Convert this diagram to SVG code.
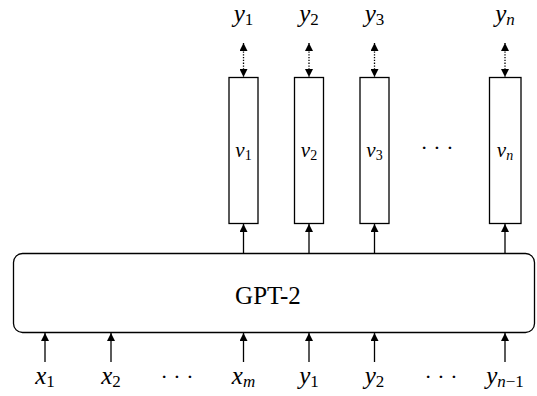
<svg xmlns="http://www.w3.org/2000/svg" width="537" height="396" viewBox="0 0 537 396">
<style>
.box{fill:#fff;stroke:#000;stroke-width:1.3}
.ln{stroke:#000;stroke-width:1.3;fill:none}
.dot{stroke:#000;stroke-width:1.3;fill:none;stroke-dasharray:1.3 1.5}
.t{font-family:"Liberation Serif","DejaVu Serif",serif;font-size:25px;fill:#000}
.m{font-style:italic}
.s{font-size:17px}
.v{font-family:"Liberation Serif","DejaVu Serif",serif;font-size:21px;fill:#000}
.d{font-family:"Liberation Serif","DejaVu Serif",serif;font-size:22px;fill:#000}
</style>
<defs>
<marker id="ah" viewBox="0 0 10 10" refX="10" refY="5" markerWidth="8" markerHeight="8" markerUnits="userSpaceOnUse" orient="auto-start-reverse">
<path d="M0,0 L10,5 L0,10 z" fill="#000"/>
</marker>
</defs>
<g id="gpt2">
<rect class="box" x="13.5" y="253.5" width="521" height="79" rx="9"/>
<text class="t" x="268" y="304" text-anchor="middle" font-size="27">GPT-2</text>
</g>
<g id="v1"><rect class="box" x="229" y="77.5" width="29" height="146"/><text class="v" x="243.5" y="157" text-anchor="middle"><tspan class="m">v</tspan><tspan font-size="14" dy="3">1</tspan></text></g>
<g id="v2"><rect class="box" x="294.5" y="77.5" width="29" height="146"/><text class="v" x="309" y="157" text-anchor="middle"><tspan class="m">v</tspan><tspan font-size="14" dy="3">2</tspan></text></g>
<g id="v3"><rect class="box" x="360" y="77.5" width="29" height="146"/><text class="v" x="374.5" y="157" text-anchor="middle"><tspan class="m">v</tspan><tspan font-size="14" dy="3">3</tspan></text></g>
<g id="vn"><rect class="box" x="489.5" y="77.5" width="31.5" height="146"/><text class="v" x="505" y="157" text-anchor="middle"><tspan class="m">v</tspan><tspan class="m" font-size="14" dy="3">n</tspan></text></g>
<text class="d" x="437" y="155" text-anchor="middle">· · ·</text>
<g id="connectors">
<line class="ln" x1="243.5" y1="253" x2="243.5" y2="224" marker-end="url(#ah)"/>
<line class="ln" x1="309" y1="253" x2="309" y2="224" marker-end="url(#ah)"/>
<line class="ln" x1="374.5" y1="253" x2="374.5" y2="224" marker-end="url(#ah)"/>
<line class="ln" x1="505" y1="253" x2="505" y2="224" marker-end="url(#ah)"/>
<line class="dot" x1="243.5" y1="43" x2="243.5" y2="77" marker-start="url(#ah)" marker-end="url(#ah)"/>
<line class="dot" x1="309" y1="43" x2="309" y2="77" marker-start="url(#ah)" marker-end="url(#ah)"/>
<line class="dot" x1="374.5" y1="43" x2="374.5" y2="77" marker-start="url(#ah)" marker-end="url(#ah)"/>
<line class="dot" x1="505" y1="43" x2="505" y2="77" marker-start="url(#ah)" marker-end="url(#ah)"/>
<line class="ln" x1="45" y1="362" x2="45" y2="333" marker-end="url(#ah)"/>
<line class="ln" x1="111" y1="362" x2="111" y2="333" marker-end="url(#ah)"/>
<line class="ln" x1="243.5" y1="362" x2="243.5" y2="333" marker-end="url(#ah)"/>
<line class="ln" x1="309" y1="362" x2="309" y2="333" marker-end="url(#ah)"/>
<line class="ln" x1="374.5" y1="362" x2="374.5" y2="333" marker-end="url(#ah)"/>
<line class="ln" x1="505" y1="362" x2="505" y2="333" marker-end="url(#ah)"/>
</g>
<g id="top-labels">
<text class="t" x="243.5" y="22" text-anchor="middle"><tspan class="m">y</tspan><tspan class="s" dy="3">1</tspan></text>
<text class="t" x="309" y="22" text-anchor="middle"><tspan class="m">y</tspan><tspan class="s" dy="3">2</tspan></text>
<text class="t" x="374.5" y="22" text-anchor="middle"><tspan class="m">y</tspan><tspan class="s" dy="3">3</tspan></text>
<text class="t" x="505" y="22" text-anchor="middle"><tspan class="m">y</tspan><tspan class="s m" dy="3">n</tspan></text>
</g>
<g id="bottom-labels">
<text class="t" x="45" y="384" text-anchor="middle"><tspan class="m">x</tspan><tspan class="s" dy="3">1</tspan></text>
<text class="t" x="111" y="384" text-anchor="middle"><tspan class="m">x</tspan><tspan class="s" dy="3">2</tspan></text>
<text class="d" x="177" y="384" text-anchor="middle">· · ·</text>
<text class="t" x="243.5" y="384" text-anchor="middle"><tspan class="m">x</tspan><tspan class="s m" dy="3">m</tspan></text>
<text class="t" x="309" y="384" text-anchor="middle"><tspan class="m">y</tspan><tspan class="s" dy="3">1</tspan></text>
<text class="t" x="374.5" y="384" text-anchor="middle"><tspan class="m">y</tspan><tspan class="s" dy="3">2</tspan></text>
<text class="d" x="441" y="384" text-anchor="middle">· · ·</text>
<text class="t" x="505" y="384" text-anchor="middle"><tspan class="m">y</tspan><tspan class="s m" dy="3">n</tspan><tspan class="s">−1</tspan></text>
</g>
</svg>
